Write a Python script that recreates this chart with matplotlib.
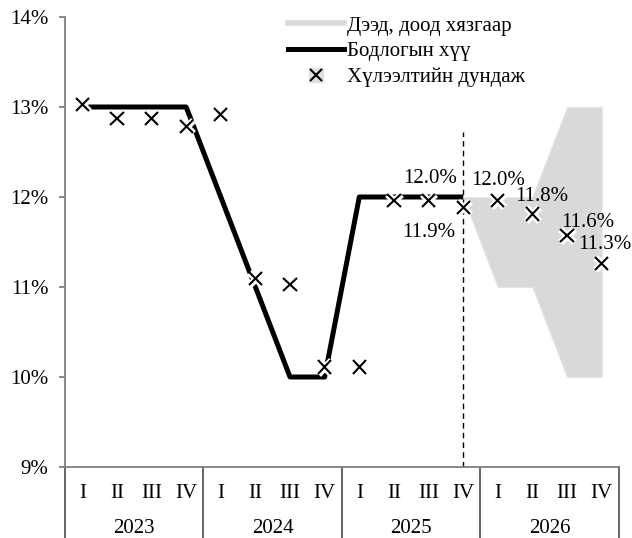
import numpy as np
import matplotlib.pyplot as plt
import matplotlib.patheffects as pe
from matplotlib.lines import Line2D
from matplotlib.legend_handler import HandlerTuple

plt.rcParams['font.family'] = ['Liberation Serif', 'DejaVu Serif']

years = ['2023', '2024', '2025', '2026']
quarters = ['I', 'II', 'III', 'IV']

# Бодлогын хүү (2026 онд байхгүй)
policy_rate = [13, 13, 13, 13, 12, 11, 10, 10, 12, 12, 12, 12,
               np.nan, np.nan, np.nan, np.nan]
# Хүлээлтийн дундаж
expect_avg = [13.03, 12.87, 12.87, 12.78, 12.92, 11.09, 11.03, 10.11,
              10.11, 11.96, 11.96, 11.88, 11.96, 11.81, 11.57, 11.26]
# Дээд, доод хязгаар (2025 IV-с эхлэн)
band_start = 11
band_upper = [12, 12, 12, 13, 13]
band_lower = [12, 11, 11, 10, 10]

# Тэмдэглэгээ: (индекс, текст, dx, dy)
labels = [(11, '12.0%', -0.95, 0.32),
          (11, '11.9%', -1.0, -0.28),
          (12, '12.0%', 0.0, 0.22),
          (13, '11.8%', 0.27, 0.19),
          (14, '11.6%', 0.6, 0.15),
          (15, '11.3%', 0.1, 0.21)]

n = len(expect_avg)
x = np.arange(n)
xb = np.arange(band_start, band_start + len(band_upper))

fig = plt.figure(figsize=(6.32, 5.38), dpi=100)
ax = fig.add_axes([0.1028, 0.132, 0.8766, 0.8364])

ax.fill_between(xb, band_lower, band_upper, color='#d9d9d9', lw=0.8,
                edgecolor='#e4e4e4', zorder=1)
ax.plot(x, policy_rate, color='black', lw=3.6, solid_capstyle='butt', zorder=2)
ax.plot(x, expect_avg, ls='none', marker='x', ms=9.5, mew=1.5, color='black', zorder=3,
        path_effects=[pe.Stroke(linewidth=5, foreground='white'), pe.Normal()])
ax.vlines(11, 9, 12.72, colors='black', linestyles=(0, (4, 3)), lw=1.0, zorder=2)

for i, txt, dx, dy in labels:
    ax.text(i + dx, expect_avg[i] + dy, txt, ha='center', va='center', fontsize=15)

ax.set_xlim(-0.5, n - 0.5)
ax.set_ylim(9, 14)
ax.set_yticks([9, 10, 11, 12, 13, 14])
ax.set_yticklabels([f'{v}%' for v in range(9, 15)], fontsize=15)
ax.set_xticks([])
for s in ['top', 'right']:
    ax.spines[s].set_visible(False)
for s in ['left', 'bottom']:
    ax.spines[s].set_color('#7f7f7f')
    ax.spines[s].set_linewidth(1.3)
ax.tick_params(axis='y', colors='#7f7f7f', length=4, width=1.3, labelcolor='black', pad=8)

# Хоёр түвшний x тэнхлэг
trans = ax.get_xaxis_transform()
for k in range(len(years) + 1):
    ax.plot([k * 4 - 0.5] * 2, [0, -0.2], transform=trans, color='#595959',
            lw=1.3, clip_on=False)
for i in range(n):
    ax.text(i, -0.058, quarters[i % 4], transform=trans, ha='center', va='center',
            fontsize=15)
for k, yr in enumerate(years):
    ax.text(k * 4 + 1.5, -0.136, yr, transform=trans, ha='center', va='center',
            fontsize=15)

h_band = Line2D([], [], color='#d9d9d9', lw=4)
h_pol = Line2D([], [], color='black', lw=3.6)
h_sq = Line2D([], [], ls='none', marker='s', ms=10, color='#e0e0e0')
h_x = Line2D([], [], ls='none', marker='x', ms=9, mew=1.5, color='black')
ax.legend([h_band, h_pol, (h_sq, h_x)],
          ['Дээд, доод хязгаар', 'Бодлогын хүү', 'Хүлээлтийн дундаж'],
          handler_map={tuple: HandlerTuple(ndivide=1)},
          loc='upper left', bbox_to_anchor=(0.38, 1.03), frameon=False, fontsize=15,
          handlelength=2.7, handletextpad=0.15, labelspacing=0.3, borderaxespad=0.2)

fig.savefig('out.png', dpi=100)
